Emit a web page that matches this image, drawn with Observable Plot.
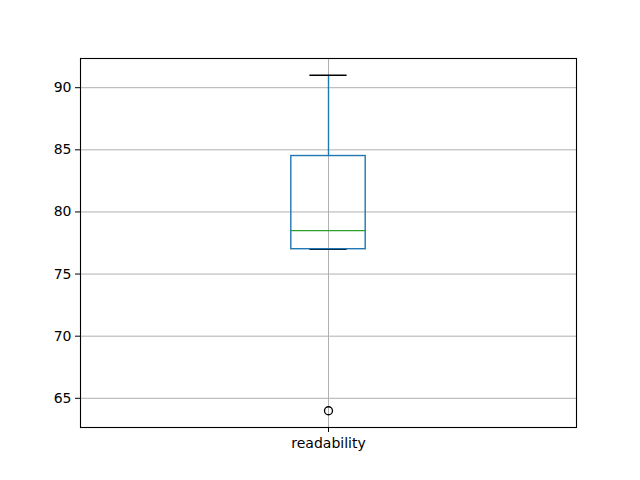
<!DOCTYPE html>
<html>
<head>
<meta charset="utf-8">
<script src="https://cdn.jsdelivr.net/npm/d3@7"></script>
<script src="https://cdn.jsdelivr.net/npm/@observablehq/plot@0.6"></script>
<style>
  html, body { margin: 0; padding: 0; background: white; }
</style>
</head>
<body>
<div id="chart"></div>
<script>
const categories = ["readability"];
const whiskerLow = [77];
const q1 = [77];
const median = [78.5];
const q3 = [84.5];
const whiskerHigh = [91];
const outliers = [[64]];
const yTicks = [65, 70, 75, 80, 85, 90];

const boxes = categories.map((c, i) => ({
  name: c, pos: i + 1,
  lo: whiskerLow[i], q1: q1[i], med: median[i], q3: q3[i], hi: whiskerHigh[i]
}));
const fliers = categories.flatMap((c, i) => outliers[i].map(v => ({pos: i + 1, v})));

const halfBox = 0.075, halfCap = 0.0375;
const blue = "#1f77b4", green = "#2ca02c", grid = "#b0b0b0";

const chart = Plot.plot({
  width: 640, height: 480,
  marginLeft: 80, marginRight: 64, marginTop: 58, marginBottom: 53,
  x: {domain: [0.5, categories.length + 0.5]},
  y: {domain: [62.65, 92.35]},
  style: {fontFamily: "DejaVu Sans", fontSize: "14px", background: "white", color: "black"},
  marks: [
    Plot.gridY(yTicks, {stroke: grid, strokeOpacity: 1, strokeWidth: 1}),
    Plot.gridX(boxes.map(d => d.pos), {stroke: grid, strokeOpacity: 1, strokeWidth: 1}),
    Plot.ruleX(boxes, {x: "pos", y1: "q3", y2: "hi", stroke: blue, strokeWidth: 1.4}),
    Plot.ruleX(boxes, {x: "pos", y1: "lo", y2: "q1", stroke: blue, strokeWidth: 1.4}),
    Plot.ruleY(boxes, {y: "hi", x1: d => d.pos - halfCap, x2: d => d.pos + halfCap, stroke: "black", strokeWidth: 1.4}),
    Plot.ruleY(boxes, {y: "lo", x1: d => d.pos - halfCap, x2: d => d.pos + halfCap, stroke: "black", strokeWidth: 1.4}),
    Plot.rect(boxes, {x1: d => d.pos - halfBox, x2: d => d.pos + halfBox, y1: "q1", y2: "q3", fill: "none", stroke: blue, strokeWidth: 1.4}),
    Plot.ruleY(boxes, {y: "med", x1: d => d.pos - halfBox, x2: d => d.pos + halfBox, stroke: green, strokeWidth: 1.4}),
    Plot.dot(fliers, {x: "pos", y: "v", r: 4, fill: "none", stroke: "black", strokeWidth: 1.3}),
    Plot.frame({stroke: "black", strokeWidth: 1.1}),
    Plot.axisY(yTicks, {tickSize: 5, tickPadding: 4, label: null, fontSize: 14}),
    Plot.axisX(boxes.map(d => d.pos), {tickSize: 5, tickPadding: 6, label: null, fontSize: 14,
      tickFormat: p => categories[p - 1]})
  ]
});
document.getElementById("chart").append(chart);
</script>
</body>
</html>
